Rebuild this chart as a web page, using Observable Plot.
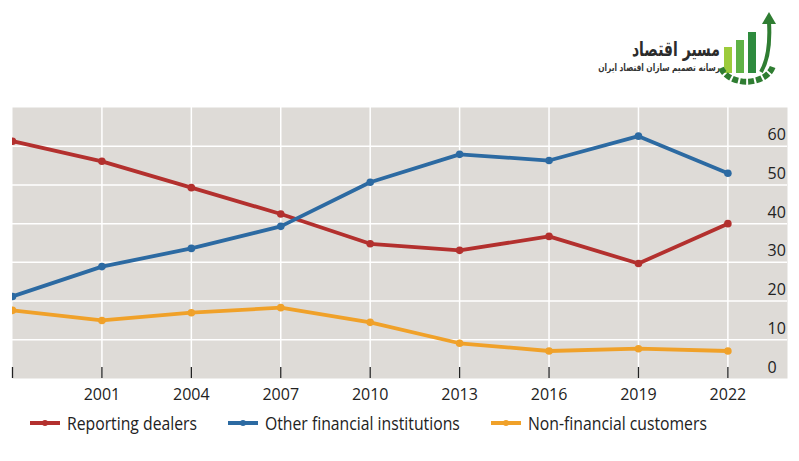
<!DOCTYPE html>
<html>
<head>
<meta charset="utf-8">
<script src="https://cdn.jsdelivr.net/npm/d3@7"></script>
<script src="https://cdn.jsdelivr.net/npm/@observablehq/plot@0.6"></script>
<style>
  html, body { margin: 0; padding: 0; background: #fff; }
  #wrap { position: relative; width: 799px; height: 461px; overflow: hidden; font-family: "Open Sans", sans-serif; }
  #logo { position: absolute; left: 0; top: 0; width: 799px; height: 100px; }
  #chart { position: absolute; left: 0; top: 100px; }
  #legend { position: absolute; left: 0; top: 410px; width: 799px; height: 26px; }
  .item { position: absolute; top: 0; height: 26px; display: flex; align-items: center; font-family: "Open Sans", sans-serif; font-size: 17.5px; color: #222; white-space: nowrap; }
  .item svg { margin-right: 7px; flex: none; }
  .item span { display: inline-block; transform: scaleX(0.9); transform-origin: left center; }
</style>
</head>
<body>
<div id="wrap">
  <svg id="logo" width="799" height="100" viewBox="0 0 799 100">
    <text transform="translate(720,56) scale(0.7,1)" x="0" y="0" text-anchor="end" font-family="DejaVu Sans, sans-serif" font-weight="bold" font-size="20" fill="#2b2b2b">مسیر اقتصاد</text>
    <text transform="translate(720,71) scale(0.74,1)" x="0" y="0" text-anchor="end" font-family="DejaVu Sans, sans-serif" font-weight="bold" font-size="10" fill="#333">رسانه تصمیم سازان اقتصاد ایران</text>
    <rect x="724" y="47" width="8" height="26" fill="#9ccb3b"/>
    <rect x="736" y="40" width="8" height="33" fill="#5fb246"/>
    <rect x="748" y="32" width="8" height="41" fill="#2e8b3e"/>
    <path d="M721,68 A27,20 0 0 0 773,66" fill="none" stroke="#2f7d32" stroke-width="6" stroke-dasharray="6 2"/>
    <path d="M761,72 Q771,55 769,22" fill="none" stroke="#2f7d32" stroke-width="4"/>
    <path d="M762,24 L769,12 L776,24 Z" fill="#2f7d32"/>
  </svg>
  <div id="chart"></div>
  <div id="legend"></div>
</div>
<script>
const years = [1998, 2001, 2004, 2007, 2010, 2013, 2016, 2019, 2022];
const dealers = [61.3, 56.1, 49.3, 42.5, 34.8, 33.1, 36.7, 29.7, 40.0];
const otherFin = [21.2, 28.9, 33.6, 39.3, 50.7, 57.9, 56.3, 62.6, 53.0];
const nonFin = [17.6, 15.0, 17.0, 18.3, 14.5, 9.1, 7.1, 7.7, 7.1];
const seriesNames = ["Reporting dealers", "Other financial institutions", "Non-financial customers"];
const seriesColors = ["#b3302e", "#2c6aa2", "#f0a129"];
const xLabelYears = [2001, 2004, 2007, 2010, 2013, 2016, 2019, 2022];
const yTicks = [0, 10, 20, 30, 40, 50, 60];
const yGrid = [10, 20, 30, 40, 50, 60];

const values = [dealers, otherFin, nonFin];
const data = [];
values.forEach((arr, i) => arr.forEach((v, j) => data.push({year: years[j], value: v, series: seriesNames[i]})));

const chart = Plot.plot({
  width: 799,
  height: 308,
  marginLeft: 12,
  marginRight: 12,
  marginTop: 7,
  marginBottom: 30,
  x: {domain: [1998, 2024], axis: null},
  y: {domain: [0, 70], axis: null},
  color: {domain: seriesNames, range: seriesColors},
  style: {fontFamily: "Open Sans, sans-serif", background: "transparent"},
  marks: [
    Plot.frame({fill: "#dedbd7", stroke: null}),
    Plot.ruleY(yGrid, {stroke: "#fff", strokeWidth: 1.5}),
    Plot.ruleX(xLabelYears, {stroke: "#fff", strokeWidth: 1.5}),
    Plot.ruleX(years, {stroke: "#222", strokeWidth: 1.3, insetTop: 260}),
    Plot.axisX({ticks: xLabelYears, tickSize: 0, tickPadding: 10, tickFormat: d => String(d), fontSize: 16, fill: "#222", label: null}),
    Plot.text(yTicks, {y: d => d, text: d => String(d), frameAnchor: "right", textAnchor: "start", dx: -20, dy: -11, fontSize: 16, fill: "#222"}),
    Plot.line(data, {x: "year", y: "value", z: "series", stroke: "series", strokeWidth: 3.8, clip: "frame"}),
    Plot.dot(data, {x: "year", y: "value", fill: "series", r: 3.8, clip: "frame"})
  ]
});
document.getElementById("chart").appendChild(chart);

const legend = document.getElementById("legend");
const lefts = [30, 228, 491];
seriesNames.forEach((name, i) => {
  const item = document.createElement("div");
  item.className = "item";
  item.style.left = lefts[i] + "px";
  item.innerHTML = `<svg width="30" height="10"><line x1="0" y1="5" x2="30" y2="5" stroke="${seriesColors[i]}" stroke-width="4"/><circle cx="15" cy="5" r="3" fill="${seriesColors[i]}"/></svg><span>${name}</span>`;
  legend.appendChild(item);
});
</script>
</body>
</html>
